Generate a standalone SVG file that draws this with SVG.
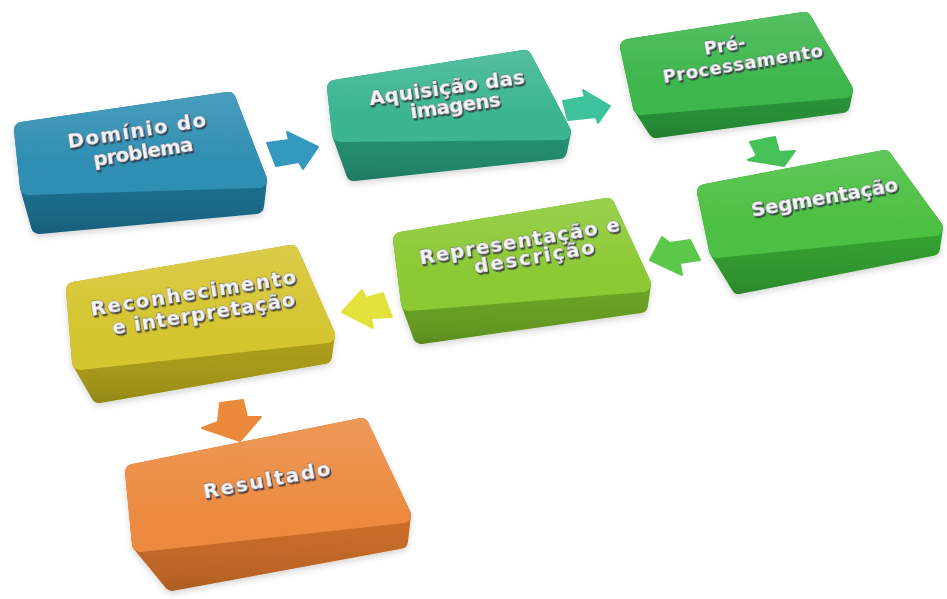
<svg xmlns="http://www.w3.org/2000/svg" width="947" height="599" viewBox="0 0 947 599">
<defs>
  <linearGradient id="gHi" x1="0" y1="0" x2="0" y2="1">
    <stop offset="0" stop-color="#202020"/>
    <stop offset="0.25" stop-color="#161616"/>
    <stop offset="0.7" stop-color="#000000"/>
    <stop offset="1" stop-color="#000000"/>
  </linearGradient>
  <linearGradient id="gLo" x1="0" y1="0" x2="0" y2="1">
    <stop offset="0" stop-color="#000000"/>
    <stop offset="0.6" stop-color="#000000"/>
    <stop offset="0.88" stop-color="#161616"/>
    <stop offset="1" stop-color="#333333"/>
  </linearGradient>
  <mask id="mHi" maskContentUnits="objectBoundingBox" x="-0.2" y="-0.2" width="1.4" height="1.4">
    <rect x="-0.2" y="-0.1" width="1.4" height="1.2" fill="url(#gHi)"/>
  </mask>
  <mask id="mLo" maskContentUnits="objectBoundingBox" x="-0.2" y="-0.2" width="1.4" height="1.4">
    <rect x="-0.2" y="-0.1" width="1.4" height="1.2" fill="url(#gLo)"/>
  </mask>
  <filter id="ts" x="-10%" y="-30%" width="120%" height="160%">
    <feDropShadow dx="1" dy="1.8" stdDeviation="0.6" flood-color="#2a2a3a" flood-opacity="0.85"/>
  </filter>
  <filter id="bs" x="-10%" y="-10%" width="120%" height="130%">
    <feDropShadow dx="0" dy="3" stdDeviation="3" flood-color="#000000" flood-opacity="0.16"/>
  </filter>
</defs>
<style>
  .f { stroke-linejoin: round; stroke-width: 16; }
  .hi { fill: #ffffff; stroke: #ffffff; stroke-linejoin: round; stroke-width: 16; mask: url(#mHi); }
  .lo { fill: #000000; stroke: #000000; stroke-linejoin: round; stroke-width: 16; mask: url(#mLo); }
  .t { font-family: "DejaVu Sans", "Liberation Sans", sans-serif; font-weight: bold; font-size: 20px; fill: #f4f4f6; stroke: #5e5e74; stroke-width: 0.8; paint-order: stroke; text-anchor: middle; filter: url(#ts); }
  .arr { stroke-linejoin: round; stroke-width: 2; }
  .c1t { fill: #2f8fb2; stroke: #2f8fb2; } .c1f { fill: #1f7090; stroke: #1f7090; }
  .c2t { fill: #3bb690; stroke: #3bb690; } .c2f { fill: #289273; stroke: #289273; }
  .c3t { fill: #3db74c; stroke: #3db74c; } .c3f { fill: #2b973b; stroke: #2b973b; }
  .c4t { fill: #4bc042; stroke: #4bc042; } .c4f { fill: #36a130; stroke: #36a130; }
  .c5t { fill: #8cc933; stroke: #8cc933; } .c5f { fill: #6ea625; stroke: #6ea625; }
  .c6t { fill: #d5c52f; stroke: #d5c52f; } .c6f { fill: #aea01f; stroke: #aea01f; }
  .c7t { fill: #ec8b40; stroke: #ec8b40; } .c7f { fill: #cc6e2a; stroke: #cc6e2a; }
</style>
<rect width="947" height="599" fill="#ffffff"/>

<g id="connectors">
  <polygon class="arr" fill="#3399bf" stroke="#3399bf" points="267,143 289,140 287,132 318,147 303,169 299,162 276,166"/>
  <polygon class="arr" fill="#3ec29d" stroke="#3ec29d" points="563,101 585,97 583,90 610,106 598,123 596,117 568,120"/>
  <polygon class="arr" fill="#45c157" stroke="#45c157" points="750,142 775,137 779,152 795,151 784,166 748,160 757,156"/>
  <polygon class="arr" fill="#5cc84a" stroke="#5cc84a" points="690,240 700,260 680,263 682,275 650,260 662,237 670,243"/>
  <polygon class="arr" fill="#e2e23a" stroke="#e2e23a" points="342,312 362,290 366,298 383,293 392,317 371,318 373,328"/>
  <polygon class="arr" fill="#ec8a3c" stroke="#ec8a3c" points="220,403 243,400 247,417 261,417 240,441 202,428 218,422"/>
</g>

<g id="node-dominio">
  <polygon class="f c1f" filter="url(#bs)" points="22,130 228,100 259,180 256,206 39,226 28,187"/>
  <polygon class="lo" points="22,130 228,100 259,180 256,206 39,226 28,187"/>
  <polygon class="f c1t" points="22,130 228,100 259,180 28,187"/>
  <polygon class="hi" points="22,130 228,100 259,180 28,187"/>
  <g transform="rotate(-9 140 145)">
    <text class="t" x="139" y="137" textLength="140" lengthAdjust="spacing">Domínio do</text>
    <text class="t" x="142" y="159" textLength="101" lengthAdjust="spacing">problema</text>
  </g>
</g>

<g id="node-aquisicao">
  <polygon class="f c2f" filter="url(#bs)" points="335,88 524,58 563,132 559,151 354,173 340,134"/>
  <polygon class="lo" points="335,88 524,58 563,132 559,151 354,173 340,134"/>
  <polygon class="f c2t" points="335,88 524,58 563,132 340,134"/>
  <polygon class="hi" points="335,88 524,58 563,132 340,134"/>
  <g transform="rotate(-8 450 96)">
    <text class="t" x="448" y="94" textLength="157" lengthAdjust="spacing">Aquisição das</text>
    <text class="t" x="454" y="113" textLength="91" lengthAdjust="spacing">imagens</text>
  </g>
</g>

<g id="node-preprocessamento">
  <polygon class="f c3f" filter="url(#bs)" points="628,47 804,20 845,90 842,105 656,130 641,107"/>
  <polygon class="lo" points="628,47 804,20 845,90 842,105 656,130 641,107"/>
  <polygon class="f c3t" points="628,47 804,20 845,90 641,107"/>
  <polygon class="hi" points="628,47 804,20 845,90 641,107"/>
  <g transform="rotate(-9.5 735 60)">
    <text class="t" x="727" y="50" style="font-size:18px">Pré-</text>
    <text class="t" x="742" y="71" style="font-size:18px" textLength="162" lengthAdjust="spacing">Processamento</text>
  </g>
</g>

<g id="node-segmentacao">
  <polygon class="f c4f" filter="url(#bs)" points="705,192 884,158 935,228 932,248 739,286 717,250"/>
  <polygon class="lo" points="705,192 884,158 935,228 932,248 739,286 717,250"/>
  <polygon class="f c4t" points="705,192 884,158 935,228 717,250"/>
  <polygon class="hi" points="705,192 884,158 935,228 717,250"/>
  <g transform="rotate(-10 825 200)">
    <text class="t" x="825" y="204" textLength="149" lengthAdjust="spacing">Segmentação</text>
  </g>
</g>

<g id="node-representacao">
  <polygon class="f c5f" filter="url(#bs)" points="401,240 607,206 643,284 640,305 421,336 409,303"/>
  <polygon class="lo" points="401,240 607,206 643,284 640,305 421,336 409,303"/>
  <polygon class="f c5t" points="401,240 607,206 643,284 409,303"/>
  <polygon class="hi" points="401,240 607,206 643,284 409,303"/>
  <g transform="rotate(-9.5 525 250)">
    <text class="t" x="521" y="247" textLength="203" lengthAdjust="spacing">Representação e</text>
    <text class="t" x="533" y="265" textLength="122" lengthAdjust="spacing">descrição</text>
  </g>
</g>

<g id="node-reconhecimento">
  <polygon class="f c6f" filter="url(#bs)" points="74,290 291,253 327,335 324,356 99,395 80,362"/>
  <polygon class="lo" points="74,290 291,253 327,335 324,356 99,395 80,362"/>
  <polygon class="f c6t" points="74,290 291,253 327,335 80,362"/>
  <polygon class="hi" points="74,290 291,253 327,335 80,362"/>
  <g transform="rotate(-9 198 304)">
    <text class="t" x="195" y="299" textLength="208" lengthAdjust="spacing">Reconhecimento</text>
    <text class="t" x="202" y="321" textLength="185" lengthAdjust="spacing">e interpretação</text>
  </g>
</g>

<g id="node-resultado">
  <polygon class="f c7f" filter="url(#bs)" points="133,472 361,426 403,515 400,541 172,583 140,544"/>
  <polygon class="lo" points="133,472 361,426 403,515 400,541 172,583 140,544"/>
  <polygon class="f c7t" points="133,472 361,426 403,515 140,544"/>
  <polygon class="hi" points="133,472 361,426 403,515 140,544"/>
  <g transform="rotate(-10.5 266 482)">
    <text class="t" x="267" y="487" textLength="129" lengthAdjust="spacing">Resultado</text>
  </g>
</g>
</svg>
